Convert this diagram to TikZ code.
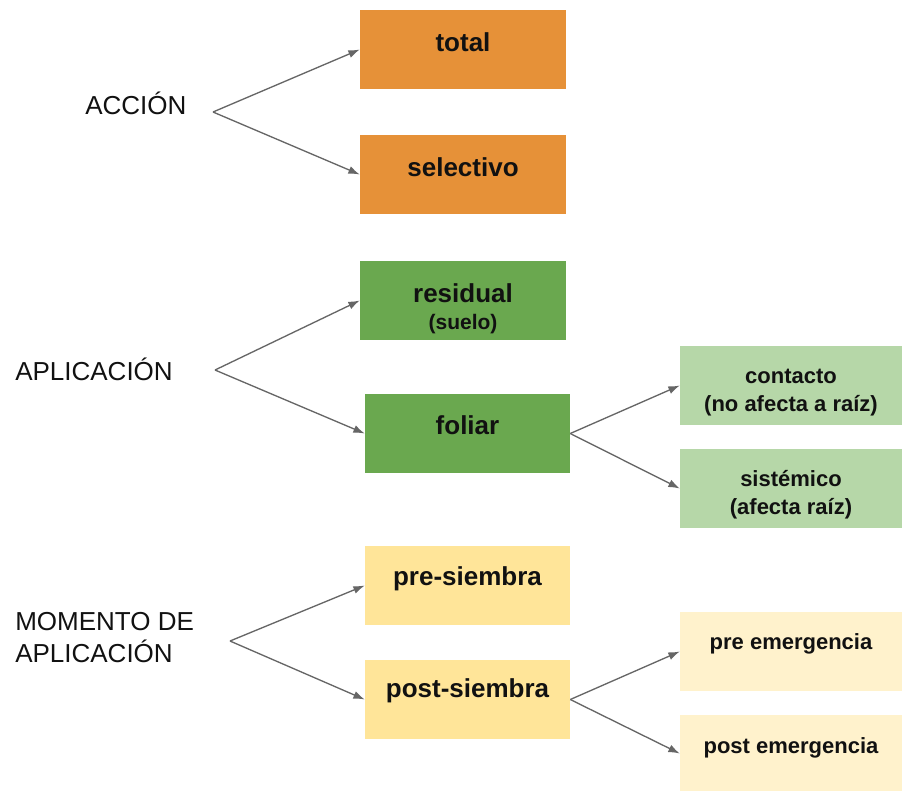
\documentclass[tikz,border=0pt]{standalone}
\usepackage{fontspec}
\setmainfont{Liberation Sans}
\usetikzlibrary{arrows.meta}
\definecolor{cOrange}{HTML}{E69138}
\definecolor{cGreen}{HTML}{6AA84F}
\definecolor{cLGreen}{HTML}{B6D7A8}
\definecolor{cYellow}{HTML}{FFE599}
\definecolor{cLYellow}{HTML}{FFF2CC}
\definecolor{cArrow}{HTML}{666666}
\definecolor{cText}{HTML}{111111}
\tikzset{
  boxA/.style={minimum width=206*0.75pt, minimum height=79*0.75pt, inner sep=0pt, draw=none},
  boxB/.style={minimum width=222*0.75pt, minimum height=79*0.75pt, inner sep=0pt, draw=none},
  bigtxt/.style={font=\fontsize{19.5pt}{23pt}\selectfont\bfseries, text=cText, align=center, inner sep=0pt},
  smalltxt/.style={font=\fontsize{16.5pt}{21pt}\selectfont\bfseries, text=cText, align=center, inner sep=0pt},
  lbl/.style={font=\fontsize{19.5pt}{24pt}\selectfont, text=cText, align=left, inner sep=0pt, anchor=west},
  conn/.style={draw=cArrow, line width=1pt, -{Latex[length=8.5pt,width=6pt]}},
}
\begin{document}
\begin{tikzpicture}[x=0.75pt,y=-0.75pt]
\useasboundingbox (0,0) rectangle (902,790);
% boxes
\node[boxA, fill=cOrange] (tot) at (463,49.5) {};
\node[boxA, fill=cOrange] (sel) at (463,174.5) {};
\node[boxA, fill=cGreen] (res) at (463,300.5) {};
\node[boxA, minimum width=205*0.75pt, fill=cGreen] (fol) at (467.5,433.5) {};
\node[boxB, fill=cLGreen] (con) at (791,385.5) {};
\node[boxB, fill=cLGreen] (sis) at (791,488.5) {};
\node[boxA, minimum width=205*0.75pt, fill=cYellow] (pres) at (467.5,585.5) {};
\node[boxA, minimum width=205*0.75pt, fill=cYellow] (posts) at (467.5,699.5) {};
\node[boxB, fill=cLYellow] (pree) at (791,651.5) {};
\node[boxB, minimum height=77*0.75pt, fill=cLYellow] (poste) at (791,753.5) {};
% texts
\node[bigtxt] (totT) at (463,42) {total};
\node[bigtxt] (selT) at (463,167) {selectivo};
\node[bigtxt] (resT) at (463,293) {residual};
\node[bigtxt, font=\fontsize{15.75pt}{18pt}\selectfont\bfseries] (resT2) at (463,324.5) {(suelo)};
\node[bigtxt] (folT) at (467.5,425) {foliar};
\node[smalltxt] (conT) at (791,393) {contacto\\(no afecta a raíz)};
\node[smalltxt] (sisT) at (791,495) {sistémico\\(afecta raíz)};
\node[smalltxt] (preeT) at (791,644) {pre emergencia};
\node[smalltxt] (posteT) at (791,748) {post emergencia};
\node[bigtxt] (presT) at (467.5,579) {pre-siembra};
\node[bigtxt] (postsT) at (467.5,691) {post-siembra};
% labels
\node[lbl] (acc) at (85,103) {ACCIÓN};
\node[lbl] (apl) at (15,369) {APLICACIÓN};
\node[lbl] (mom) at (15,638) {MOMENTO DE\\APLICACIÓN};
% vertices
\coordinate (v1) at (213,112);
\coordinate (v2) at (215,370);
\coordinate (v3) at (230,641);
% connectors
\draw[conn] (v1) -- (tot.west);
\draw[conn] (v1) -- (sel.west);
\draw[conn] (v2) -- (res.west);
\draw[conn] (v2) -- (fol.west);
\draw[conn] (fol.east) -- (con.west);
\draw[conn] (fol.east) -- (sis.west);
\draw[conn] (v3) -- (pres.west);
\draw[conn] (v3) -- (posts.west);
\draw[conn] (posts.east) -- (pree.west);
\draw[conn] (posts.east) -- (poste.west);
\end{tikzpicture}
\end{document}
